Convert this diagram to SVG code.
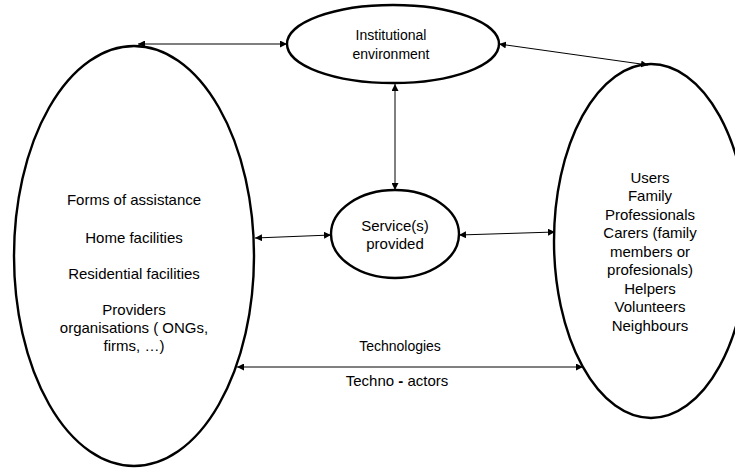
<svg xmlns="http://www.w3.org/2000/svg" width="735" height="468" viewBox="0 0 735 468">
  <style>
    .node { fill: #ffffff; stroke: #000000; stroke-width: 2.4; }
    .label { font-family: "Liberation Sans", Arial, sans-serif; font-size: 15px; fill: #000000; text-anchor: middle; }
    .small { font-size: 14px; }
    .link { stroke: #000000; stroke-width: 1; fill: none; marker-start: url(#arrowStart); marker-end: url(#arrowEnd); }
  </style>
  <defs>
    <marker id="arrowEnd" viewBox="0 0 10 10" refX="10" refY="5" markerWidth="7" markerHeight="7" markerUnits="userSpaceOnUse" orient="auto">
      <path d="M0,0 L10,5 L0,10 Z" fill="#000000"/>
    </marker>
    <marker id="arrowStart" viewBox="0 0 10 10" refX="0" refY="5" markerWidth="7" markerHeight="7" markerUnits="userSpaceOnUse" orient="auto">
      <path d="M10,0 L0,5 L10,10 Z" fill="#000000"/>
    </marker>
  </defs>

  <rect width="735" height="468" fill="#ffffff"/>

  <g id="providers">
    <ellipse class="node" cx="134" cy="256" rx="120" ry="210"/>
    <text class="label" x="134" y="205">Forms of assistance</text>
    <text class="label" x="134" y="243">Home facilities</text>
    <text class="label" x="134" y="279">Residential facilities</text>
    <text class="label" x="134" y="315">Providers</text>
    <text class="label" x="134" y="333">organisations ( ONGs,</text>
    <text class="label" x="134" y="351">firms, …)</text>
  </g>

  <g id="institutional">
    <ellipse class="node" cx="393" cy="44" rx="106" ry="39"/>
    <text class="label small" x="391" y="40">Institutional</text>
    <text class="label small" x="391" y="59">environment</text>
  </g>

  <g id="service">
    <ellipse class="node" cx="395" cy="234" rx="64" ry="44"/>
    <text class="label" x="395" y="231" font-size="14.5">Service(s)</text>
    <text class="label" x="395" y="249" font-size="14.5">provided</text>
  </g>

  <g id="actors">
    <ellipse class="node" cx="651" cy="241" rx="97" ry="177"/>
    <text class="label" x="650" y="183">Users</text>
    <text class="label" x="650" y="201">Family</text>
    <text class="label" x="650" y="220">Professionals</text>
    <text class="label" x="650" y="238">Carers (family</text>
    <text class="label" x="650" y="257">members or</text>
    <text class="label" x="650" y="275">profesionals)</text>
    <text class="label" x="650" y="294">Helpers</text>
    <text class="label" x="650" y="312">Volunteers</text>
    <text class="label" x="650" y="331">Neighbours</text>
  </g>

  <g id="technologies">
    <text class="label small" x="400" y="351">Technologies</text>
    <text class="label" x="397" y="386">Techno <tspan font-weight="bold">-</tspan> actors</text>
  </g>

  <g id="connectors">
    <line class="link" x1="138" y1="44" x2="287" y2="44"/>
    <line class="link" x1="499" y1="44" x2="648" y2="65"/>
    <line class="link" x1="395" y1="84" x2="395" y2="190"/>
    <line class="link" x1="255" y1="238" x2="331" y2="235"/>
    <line class="link" x1="459" y1="235" x2="555" y2="232"/>
    <line class="link" x1="237" y1="367" x2="583" y2="367"/>
  </g>
</svg>
